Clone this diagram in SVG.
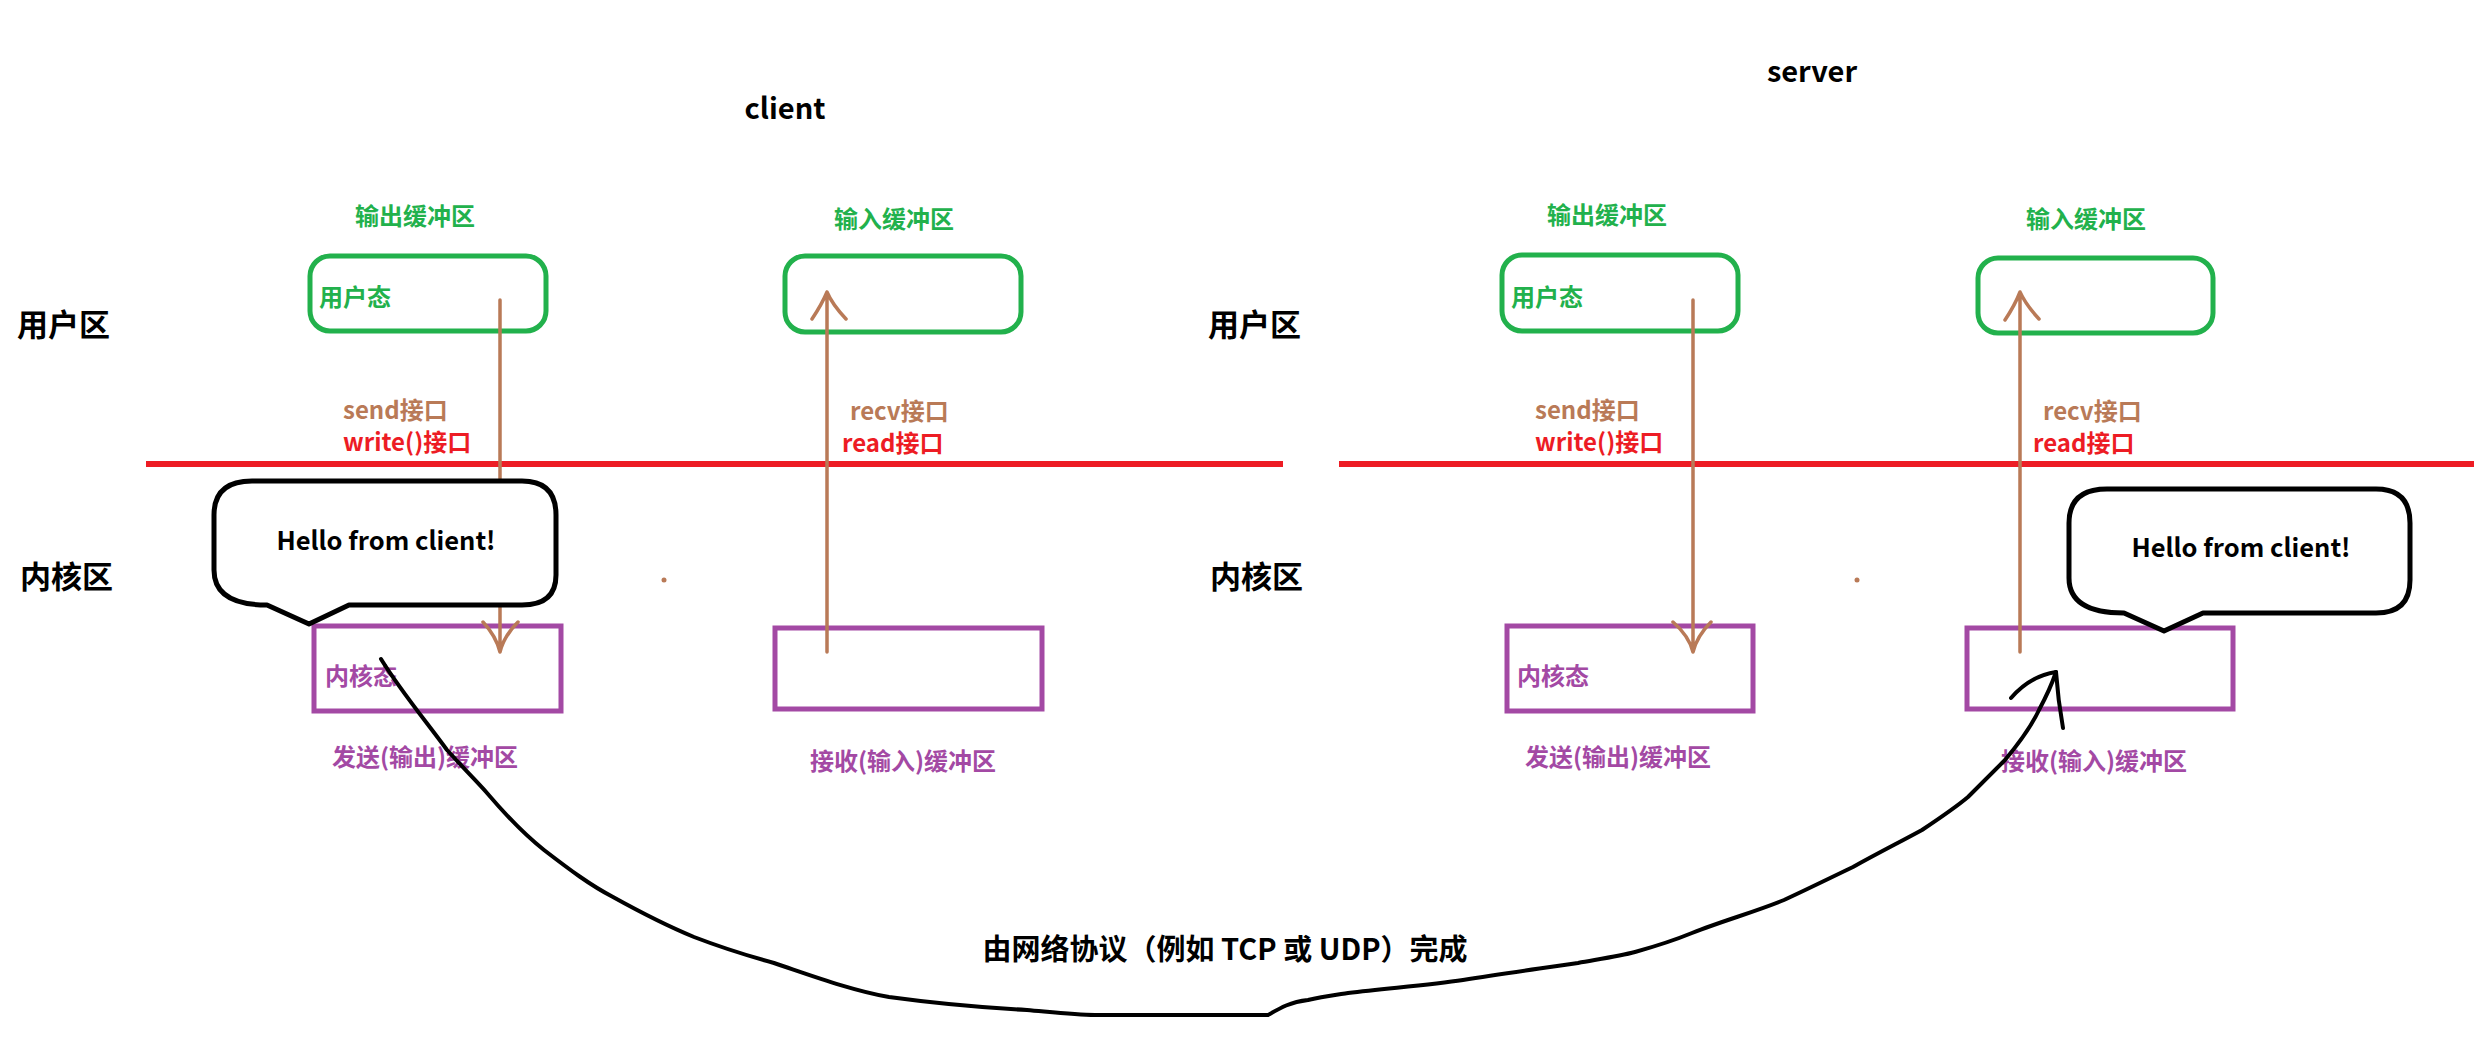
<svg xmlns="http://www.w3.org/2000/svg" width="2490" height="1040" viewBox="0 0 2490 1040">
<style>
text{font-family:"Noto Sans CJK SC","Noto Sans",sans-serif;font-weight:bold}
.zone{font-size:31px;fill:#000}
.title{font-size:29px;fill:#000}
.g{font-size:24px;fill:#22b14c}
.p{font-size:24px;fill:#a349a4}
.br{font-size:24px;fill:#b97a57}
.rd{font-size:24px;fill:#ed1c24}
.hello{font-size:25.5px;fill:#000}
.net{font-size:29px;fill:#000}
.ubox{fill:none;stroke:#22b14c;stroke-width:5}
.kbox{fill:none;stroke:#a349a4;stroke-width:5}
.bubble{fill:#fff;stroke:#000;stroke-width:5;stroke-linejoin:round}
.arrow{fill:none;stroke:#b97a57;stroke-width:3.5;stroke-linecap:round;stroke-linejoin:round}
.sep{stroke:#ed1c24;stroke-width:6}
.curve{fill:none;stroke:#000;stroke-width:4;stroke-linecap:round;stroke-linejoin:round}
</style>

<g id="titles">
<text class="title" x="785" y="119" text-anchor="middle">client</text>
<text class="title" x="1812" y="82" text-anchor="middle">server</text>
</g>

<g id="zones">
<text class="zone" x="17" y="336">用户区</text>
<text class="zone" x="20" y="588">内核区</text>
<text class="zone" x="1208" y="336">用户区</text>
<text class="zone" x="1210" y="588">内核区</text>
</g>

<g id="separators">
<line class="sep" x1="146" y1="464" x2="1283" y2="464"/>
<line class="sep" x1="1339" y1="464" x2="2474" y2="464"/>
</g>

<g id="client-out-user">
<text class="g" x="415" y="225" text-anchor="middle">输出缓冲区</text>
<rect class="ubox" x="310" y="256" width="236" height="75" rx="20"/>
<text class="g" x="319" y="306">用户态</text>
</g>
<g id="client-in-user">
<text class="g" x="894" y="228" text-anchor="middle">输入缓冲区</text>
<rect class="ubox" x="785" y="256" width="236" height="76" rx="20"/>
</g>
<g id="server-out-user">
<text class="g" x="1607" y="224" text-anchor="middle">输出缓冲区</text>
<rect class="ubox" x="1502" y="255" width="236" height="76" rx="20"/>
<text class="g" x="1511" y="306">用户态</text>
</g>
<g id="server-in-user">
<text class="g" x="2086" y="228" text-anchor="middle">输入缓冲区</text>
<rect class="ubox" x="1978" y="258" width="235" height="75" rx="20"/>
</g>

<g id="client-out-kernel">
<rect class="kbox" x="314" y="626" width="247" height="85"/>
<text class="p" x="325" y="685">内核态</text>
<text class="p" x="425" y="766" text-anchor="middle">发送(输出)缓冲区</text>
</g>
<g id="client-in-kernel">
<rect class="kbox" x="775" y="628" width="267" height="81"/>
<text class="p" x="903" y="770" text-anchor="middle">接收(输入)缓冲区</text>
</g>
<g id="server-out-kernel">
<rect class="kbox" x="1507" y="626" width="246" height="85"/>
<text class="p" x="1517" y="685">内核态</text>
<text class="p" x="1618" y="766" text-anchor="middle">发送(输出)缓冲区</text>
</g>
<g id="server-in-kernel">
<rect class="kbox" x="1967" y="628" width="266" height="81"/>
<text class="p" x="2094" y="770" text-anchor="middle">接收(输入)缓冲区</text>
</g>

<g id="connectors">
<path class="arrow" d="M500,300 V652 M483,622 Q496,636 500,652 Q504,636 518,622"/>
<path class="arrow" d="M827,652 V292 M812,319 Q822,304 827,292 Q832,304 846,319"/>
<path class="arrow" d="M1693,300 V652 M1673,622 Q1689,636 1693,652 Q1697,636 1711,622"/>
<path class="arrow" d="M2020,652 V292 M2005,320 Q2015,305 2020,292 Q2026,305 2039,319"/>
<circle cx="664" cy="580" r="2.5" fill="#b97a57"/>
<circle cx="1857" cy="580" r="2.5" fill="#b97a57"/>
<path class="curve" d="M381,659 C400,690 425,720 447,750 C470,775 480,785 487,793 C510,820 525,835 544,850 C570,870 590,885 613,897 C640,912 665,925 694,937 C720,947 745,955 774,963 C810,975 850,990 889,997 C940,1004 990,1008 1027,1010 C1050,1012 1075,1015 1095,1015 L1268,1015 C1280,1008 1290,1002 1308,1000 C1320,997 1335,995 1348,993 C1390,988 1430,985 1463,980 C1505,973 1545,968 1578,963 C1600,959 1620,956 1635,952 C1660,945 1675,940 1692,933 C1725,920 1755,912 1784,900 C1810,888 1830,878 1853,867 C1880,852 1900,842 1922,830 C1940,818 1955,808 1968,797 C1985,780 1995,770 2005,760 C2020,742 2032,725 2039,710 C2047,695 2052,684 2056,672"/>
<path class="curve" d="M2011,698 Q2030,676 2056,672 Q2058,700 2063,728"/>
</g>

<g id="bubble-client">
<path class="bubble" d="M252,481 H522 Q556,481 556,515 V575 Q556,605 522,605 H349 L309,624 L267,605 Q214,605 214,570 V515 Q214,481 252,481 Z"/>
<text class="hello" x="386" y="550" text-anchor="middle">Hello from client!</text>
</g>
<g id="bubble-server">
<path class="bubble" d="M2107,489 H2376 Q2410,489 2410,523 V580 Q2410,613 2376,613 H2203 L2164,631 L2124,613 Q2069,613 2069,578 V523 Q2069,489 2107,489 Z"/>
<text class="hello" x="2241" y="557" text-anchor="middle">Hello from client!</text>
</g>

<g id="labels">
<text class="br" x="343" y="419">send接口</text>
<text class="rd" x="343" y="451">write()接口</text>
<text class="br" x="850" y="420">recv接口</text>
<text class="rd" x="842" y="452">read接口</text>
<text class="br" x="1535" y="419">send接口</text>
<text class="rd" x="1535" y="451">write()接口</text>
<text class="br" x="2043" y="420">recv接口</text>
<text class="rd" x="2033" y="452">read接口</text>
<text class="net" x="1225" y="960" text-anchor="middle">由网络协议（例如 TCP 或 UDP）完成</text>
</g>
</svg>
